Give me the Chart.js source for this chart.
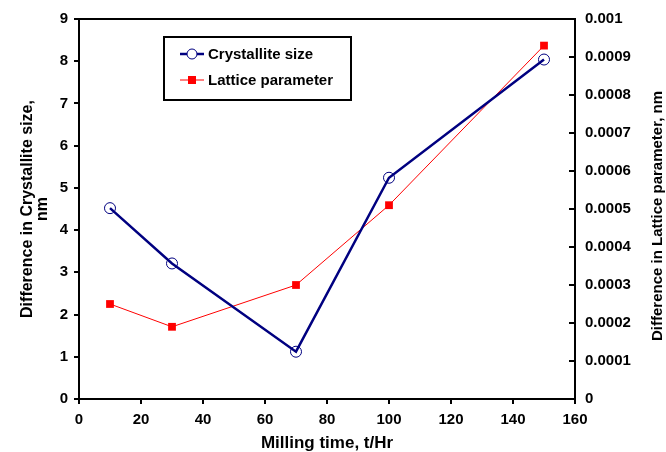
<!DOCTYPE html>
<html>
<head>
<meta charset="utf-8">
<script src="https://cdn.jsdelivr.net/npm/chart.js@4.4.1/dist/chart.umd.min.js"></script>
<style>
  html, body { margin: 0; padding: 0; background: #fff; }
  #wrap { width: 666px; height: 452px; }
</style>
</head>
<body>
<div id="wrap"><canvas id="chart" width="666" height="452"></canvas></div>
<script>
// data
const millingTime = [10, 30, 70, 100, 150];
const crystalliteSize = [4.52, 3.21, 1.12, 5.24, 8.04];
const latticeParam = [0.00025, 0.00019, 0.0003, 0.00051, 0.00093];
const seriesLabels = ['Crystallite size', 'Lattice parameter'];
const rightTitle = 'Difference in Lattice parameter, nm';

const FONT = '"Liberation Sans", Arial, sans-serif';
Chart.defaults.font.family = FONT;
Chart.defaults.font.weight = 'bold';
Chart.defaults.font.size = 15;
Chart.defaults.color = '#000';

// box round the plot, inward ticks on the right axis, right title and the boxed legend
const framePlugin = {
  id: 'frame',
  afterDraw(chart) {
    const ctx = chart.ctx;
    const a = chart.chartArea;
    ctx.save();
    ctx.strokeStyle = '#000';
    ctx.lineWidth = 2;
    ctx.beginPath();
    ctx.moveTo(a.left - 1, a.top);
    ctx.lineTo(a.right + 1, a.top);
    ctx.stroke();

    const y2 = chart.scales.y2;
    y2.ticks.forEach(t => {
      if (t.value === 0) return;
      const py = Math.round(y2.getPixelForValue(t.value));
      ctx.beginPath();
      ctx.moveTo(a.right - 6, py);
      ctx.lineTo(a.right, py);
      ctx.stroke();
    });

    // right axis title, read bottom to top
    ctx.save();
    ctx.translate(658, 216);
    ctx.rotate(-Math.PI / 2);
    ctx.fillStyle = '#000';
    ctx.font = 'bold 15px ' + FONT;
    ctx.textAlign = 'center';
    ctx.textBaseline = 'middle';
    ctx.fillText(rightTitle, 0, 0);
    ctx.restore();

    // legend
    const bx = 164, by = 37, bw = 187, bh = 63;
    ctx.fillStyle = '#fff';
    ctx.fillRect(bx, by, bw, bh);
    ctx.strokeRect(bx, by, bw, bh);
    const rows = [54, 80];
    chart.data.datasets.forEach((ds, i) => {
      const y = rows[i];
      ctx.strokeStyle = ds.borderColor;
      ctx.lineWidth = ds.borderWidth;
      ctx.beginPath();
      ctx.moveTo(180, y);
      ctx.lineTo(204, y);
      ctx.stroke();
      if (ds.pointStyle === 'circle') {
        ctx.fillStyle = '#fff';
        ctx.lineWidth = 1;
        ctx.beginPath();
        ctx.arc(192, y, 5, 0, Math.PI * 2);
        ctx.fill();
        ctx.stroke();
      } else {
        ctx.fillStyle = ds.pointBackgroundColor;
        ctx.fillRect(188, y - 4, 8, 8);
      }
      ctx.fillStyle = '#000';
      ctx.font = 'bold 15px ' + FONT;
      ctx.textBaseline = 'middle';
      ctx.textAlign = 'left';
      ctx.fillText(ds.label, 208, y + 1);
    });
    ctx.restore();
  }
};

new Chart(document.getElementById('chart').getContext('2d'), {
  type: 'line',
  data: {
    datasets: [
      {
        label: seriesLabels[0],
        data: millingTime.map((x, i) => ({ x: x, y: crystalliteSize[i] })),
        yAxisID: 'y',
        borderColor: '#000080',
        borderWidth: 2.5,
        pointStyle: 'circle',
        pointRadius: 5.5,
        pointBorderWidth: 1,
        pointBorderColor: '#000080',
        pointBackgroundColor: 'rgba(255,255,255,0)',
        tension: 0
      },
      {
        label: seriesLabels[1],
        data: millingTime.map((x, i) => ({ x: x, y: latticeParam[i] })),
        yAxisID: 'y2',
        borderColor: '#ff0000',
        borderWidth: 1,
        pointStyle: 'rect',
        pointRadius: 5.5,
        pointBorderWidth: 0,
        pointBorderColor: '#ff0000',
        pointBackgroundColor: '#ff0000',
        tension: 0
      }
    ]
  },
  options: {
    responsive: false,
    animation: false,
    layout: { padding: { top: 19, left: 0, right: 0, bottom: 0 } },
    plugins: { legend: { display: false }, tooltip: { enabled: false } },
    scales: {
      x: {
        type: 'linear',
        min: 0, max: 160,
        ticks: { stepSize: 20, padding: 7 },
        grid: { drawOnChartArea: false, color: '#000', lineWidth: 2, tickLength: 5 },
        border: { color: '#000', width: 2 },
        title: { display: true, text: 'Milling time, t/Hr', font: { size: 17, weight: 'bold' }, padding: { top: 0, bottom: -2 } },
        afterFit: s => { s.height = 53; }
      },
      y: {
        position: 'left',
        min: 0, max: 9,
        ticks: { stepSize: 1, padding: 6 },
        grid: { drawOnChartArea: false, color: '#000', lineWidth: 2, tickLength: 5 },
        border: { color: '#000', width: 2 },
        title: { display: true, text: ['Difference in Crystallite size,', 'nm'], font: { size: 16, weight: 'bold', lineHeight: 0.95 }, padding: { top: 20, bottom: 0 } },
        afterFit: s => { s.width = 79; }
      },
      y2: {
        position: 'right',
        min: 0, max: 0.001,
        ticks: { stepSize: 0.0001, padding: 10, callback: v => String(Number(v.toFixed(4))) },
        grid: { drawOnChartArea: false, drawTicks: false },
        border: { color: '#000', width: 2 },
        title: { display: false },
        afterFit: s => { s.width = 91; }
      }
    }
  },
  plugins: [framePlugin]
});
</script>
</body>
</html>
